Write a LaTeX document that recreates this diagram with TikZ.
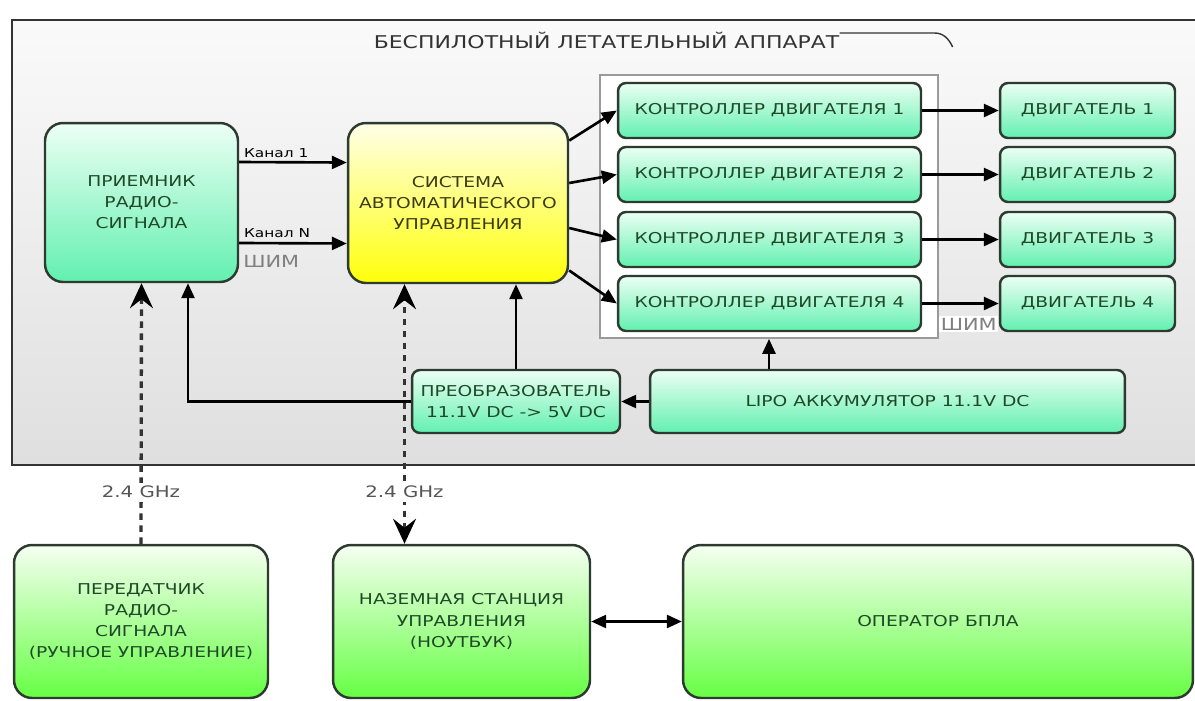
\documentclass[tikz,border=0pt]{standalone}
\usepackage{fontspec}
\setmainfont{DejaVu Sans}[FakeStretch=1.25]
\usetikzlibrary{arrows.meta}

\definecolor{boxline}{HTML}{2D3A2F}
\definecolor{txtgreen}{HTML}{1F4A28}
\definecolor{txtolive}{HTML}{3C3C12}
\definecolor{mintTop}{HTML}{ECFFF4}
\definecolor{mintBot}{HTML}{62F0B0}
\definecolor{limeTop}{HTML}{F6FFF2}
\definecolor{limeBot}{HTML}{66FF44}
\definecolor{yelTop}{HTML}{FFFFE8}
\definecolor{yelBot}{HTML}{FFFF0A}
\definecolor{frameTop}{HTML}{FAFAFA}
\definecolor{frameBot}{HTML}{DFDFDF}
\definecolor{frameline}{HTML}{333333}
\definecolor{grpline}{HTML}{9A9A9A}
\definecolor{labgray}{HTML}{555555}

\newcommand\blkfont{\fontsize{8.5}{12}\selectfont}
\newcommand\ttlfont{\fontsize{10}{12}\selectfont}
\newcommand\chanfont{\fontsize{7}{8}\selectfont}
\newcommand\pwmfont{\fontsize{9.5}{11}\selectfont}
\newcommand\ghzfont{\fontsize{9}{11}\selectfont}

\tikzset{
  wtip/.tip={Triangle[length=3mm,width=2.6mm]},
  rtip/.tip={Stealth[length=5mm,width=4.6mm,inset=1.8mm,color=black]},
  blk/.style={draw=boxline, line width=1.4pt, align=center, text=txtgreen, font=\blkfont, inner sep=1pt},
  mint/.style={blk, top color=mintTop, bottom color=mintBot},
  lime/.style={blk, top color=limeTop, bottom color=limeBot, rounded corners=0.36cm},
  wire/.style={line width=1.5pt, draw=black, -wtip},
  radio/.style={line width=1.9pt, draw=frameline, dash pattern=on 1.3mm off 1.1mm},
  ghz/.style={fill=white, text=labgray, font=\ghzfont, inner sep=2pt}
}

\begin{document}
\begin{tikzpicture}[x=0.02cm, y=-0.02cm]
\useasboundingbox (0,0) rectangle (1195,700);
\shade[top color=frameTop, bottom color=frameBot] (12,20) rectangle (1195,465);
\draw[line width=1.6pt, draw=frameline] (1195,20) -- (12,20) -- (12,465) -- (1195,465);
\node[font=\ttlfont, text=frameline, inner sep=0pt] (title) at (606.5,40) {БЕСПИЛОТНЫЙ ЛЕТАТЕЛЬНЫЙ АППАРАТ};
\draw[line width=0.8pt, draw=frameline] ([yshift=0.14cm]title.east) -- ++(95,0) to[out=0, in=115] ++(18,14);

\node[draw=grpline, line width=1pt, fill=white, minimum width=6.76cm, minimum height=5.26cm] (ctrlgrp) at (769,206.5) {};

\node[mint, rounded corners=0.36cm, minimum width=3.86cm, minimum height=3.18cm] (recv) at (141.5,202.5) {ПРИЕМНИК\\РАДИО-\\СИГНАЛА};
\node[blk, top color=yelTop, bottom color=yelBot, text=txtolive, rounded corners=0.36cm, minimum width=4.4cm, minimum height=3.2cm] (sau) at (458,203) {СИСТЕМА\\АВТОМАТИЧЕСКОГО\\УПРАВЛЕНИЯ};

\foreach \i/\y in {1/110.5, 2/174.5, 3/239.5, 4/303.5} {
  \node[mint, rounded corners=0.16cm, minimum width=6.06cm, minimum height=1.1cm] (ctrl\i) at (769.5,\y) {КОНТРОЛЛЕР ДВИГАТЕЛЯ \i};
  \node[mint, rounded corners=0.16cm, minimum width=3.5cm, minimum height=1.1cm] (mot\i) at (1087.5,\y) {ДВИГАТЕЛЬ \i};
  \draw[wire] (ctrl\i.east) -- (mot\i.west);
}
\node[anchor=south east, fill=white, text=gray, font=\pwmfont, inner sep=1pt] (pwmb) at (mot4.south west) {ШИМ};

\node[mint, rounded corners=0.16cm, minimum width=4.16cm, minimum height=1.26cm] (conv) at (516,401.5) {ПРЕОБРАЗОВАТЕЛЬ\\11.1V DC -> 5V DC};
\node[mint, rounded corners=0.16cm, minimum width=9.5cm, minimum height=1.26cm] (lipo) at (887.5,401.5) {LIPO АККУМУЛЯТОР 11.1V DC};

\node[lime, minimum width=5.08cm, minimum height=3.06cm] (tx) at (141,621.5) {ПЕРЕДАТЧИК\\РАДИО-\\СИГНАЛА\\(РУЧНОЕ УПРАВЛЕНИЕ)};
\node[lime, minimum width=5.14cm, minimum height=3.06cm] (gs) at (461.5,621.5) {НАЗЕМНАЯ СТАНЦИЯ\\УПРАВЛЕНИЯ\\(НОУТБУК)};
\node[lime, minimum width=10.2cm, minimum height=3.06cm] (op) at (938,621.5) {ОПЕРАТОР БПЛА};

\draw[wire] ([yshift=0.81cm]recv.east) -- node[pos=0, anchor=south west, font=\chanfont, text=black, inner sep=2pt] (ch1) {Канал 1} ([yshift=0.81cm]sau.west);
\draw[wire] ([yshift=-0.81cm]recv.east) -- node[pos=0, anchor=south west, font=\chanfont, text=black, inner sep=2pt] (chn) {Канал N} ([yshift=-0.81cm]sau.west);
\node[anchor=north west, text=gray, font=\pwmfont, inner sep=1pt] (pwma) at ([yshift=-0.2cm, xshift=0.04cm]recv.east |- chn.south) {ШИМ};

\foreach \s/\i in {1.25/1, 0.4/2, -0.5/3, -1.35/4}
  \draw[wire] ([yshift=\s cm]sau.east) -- (ctrl\i.west);

\draw[wire] (lipo.north -| ctrlgrp.south) -- (ctrlgrp.south);
\draw[wire] (lipo.west) -- (conv.east);
\draw[wire] (conv.north) -- (conv.north |- sau.south);
\draw[wire] (conv.west) -| ([xshift=0.93cm]recv.south);

\draw[radio, -rtip] (tx.north) -- (recv.south);
\draw[radio, rtip-rtip] ([xshift=-1.07cm]sau.south |- gs.north) -- ([xshift=-1.07cm]sau.south);
\node[ghz] (ghza) at (141,492) {2.4 GHz};
\node[ghz] (ghzb) at (404.5,492) {2.4 GHz};
\draw[line width=1.5pt, wtip-wtip] (gs.east) -- (op.west);
\end{tikzpicture}
\end{document}
